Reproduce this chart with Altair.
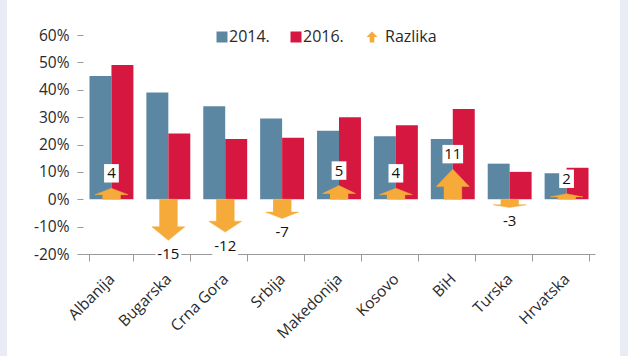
import altair as alt
import pandas as pd

countries = ["Albanija", "Bugarska", "Crna Gora", "Srbija", "Makedonija",
             "Kosovo", "BiH", "Turska", "Hrvatska"]
v2014 = [45, 39, 34, 29.5, 25, 23, 22, 13, 9.5]
v2016 = [49, 24, 22, 22.5, 30, 27, 33, 10, 11.5]
razlika = [4, -15, -12, -7, 5, 4, 11, -3, 2]
years = ["2014.", "2016."]
legend_names = ["2014.", "2016.", "Razlika"]
y_ticks = [-20, -10, 0, 10, 20, 30, 40, 50, 60]

BLUE = "#5B87A2"
RED = "#D6173F"
ORANGE = "#F6AA3A"
FONT = "Open Sans"
TXT = "#2a2a2a"

bars_df = pd.DataFrame({
    "country": countries * 2,
    "year": [years[0]] * len(countries) + [years[1]] * len(countries),
    "value": v2014 + v2016,
})

# arrow polygons built from the difference values
SHAFT, HEAD = 0.41, 0.75
rows = []
for c, d in zip(countries, razlika):
    hb = d * (0.67 if d < 0 else 0.42)
    pts = [(-SHAFT, 0), (SHAFT, 0), (SHAFT, hb), (HEAD, hb), (0, d), (-HEAD, hb), (-SHAFT, hb)]
    for k, (ox, yy) in enumerate(pts):
        rows.append({"country": c, "k": k, "off": ox, "y": yy})
arrow_df = pd.DataFrame(rows)

lab_df = pd.DataFrame({
    "country": countries,
    "d": razlika,
    "label": [str(v) for v in razlika],
    "len": [str(len(str(v))) for v in razlika],
})

x_axis = alt.Axis(title=None, labelAngle=-45, tickBand="extent",
                  domainColor="#9a9a9a", tickColor="#9a9a9a", tickSize=7,
                  labelFont=FONT, labelFontSize=15.5, labelColor=TXT,
                  labelPadding=15, labelAlign="right", labelBaseline="middle",
                  labelOverlap=False)
x_scale = alt.Scale(paddingInner=0.228, paddingOuter=0.114)
y_axis = alt.Axis(title=None, values=y_ticks, labelExpr="datum.value + '%'",
                  domain=False, grid=False, tickSize=6, tickColor="#9a9a9a",
                  labelFont=FONT, labelFontSize=15.5, labelColor=TXT, labelPadding=8,
                  labelOverlap=False)
y_scale = alt.Scale(domain=[-20, 60], nice=False, zero=False)


def xe():
    return alt.X("country:N", sort=countries, scale=x_scale, axis=x_axis)


def ye(field):
    return alt.Y(field, scale=y_scale, axis=y_axis)


bars = alt.Chart(bars_df).mark_bar().encode(
    x=xe(),
    xOffset=alt.XOffset("year:N", sort=years, scale=alt.Scale(paddingInner=0, paddingOuter=0)),
    y=ye("value:Q"),
    color=alt.Color("year:N", scale=alt.Scale(domain=years, range=[BLUE, RED]), legend=None),
)

arrows = alt.Chart(arrow_df).mark_line(fill=ORANGE, stroke=ORANGE, strokeWidth=0.5,
                                        interpolate="linear").encode(
    x=xe(),
    xOffset=alt.XOffset("off:Q", scale=alt.Scale(domain=[-1, 1])),
    y=ye("y:Q"),
    detail="country:N",
    order="k:Q",
)

box_shapes = ["M-0.8,-1H0.8V1H-0.8Z", "M-1.12,-1H1.12V1H-1.12Z", "M-1.4,-1H1.4V1H-1.4Z"]
shape_enc = alt.Shape("len:N", scale=alt.Scale(domain=["1", "2", "3"], range=box_shapes), legend=None)

pos = alt.datum.d > 0
neg = alt.datum.d < 0

boxes_pos = alt.Chart(lab_df).transform_filter(pos).mark_point(
    filled=True, fill="white", opacity=1, size=340, yOffset=-15, strokeWidth=0
).encode(x=xe(), y=ye("d:Q"), shape=shape_enc)

boxes_neg = alt.Chart(lab_df).transform_filter(neg).mark_point(
    filled=True, fill="white", opacity=1, size=340, yOffset=14, strokeWidth=0
).encode(x=xe(), y=ye("d:Q"), shape=shape_enc)

text_pos = alt.Chart(lab_df).transform_filter(pos).mark_text(
    font=FONT, fontSize=15, color="#111111", dy=-15, baseline="middle"
).encode(x=xe(), y=ye("d:Q"), text="label:N")

text_neg = alt.Chart(lab_df).transform_filter(neg).mark_text(
    font=FONT, fontSize=15, color="#111111", dy=14, baseline="middle"
).encode(x=xe(), y=ye("d:Q"), text="label:N")

# manual legend
leg_df = pd.DataFrame({
    "name": legend_names,
    "px": [139, 213, 289],
    "tx": [146, 220, 302],
    "py": [2, 2, 2],
})
arrow_icon = "M0,-1L1,0L0.42,0L0.42,1L-0.42,1L-0.42,0L-1,0Z"
leg_sym = alt.Chart(leg_df).mark_point(filled=True, opacity=1, strokeWidth=0).encode(
    x=alt.X("px:Q", scale=None),
    y=alt.Y("py:Q", scale=None),
    color=alt.Color("name:N", scale=alt.Scale(domain=legend_names, range=[BLUE, RED, ORANGE]), legend=None),
    shape=alt.Shape("name:N", scale=alt.Scale(domain=legend_names, range=["square", "square", arrow_icon]), legend=None),
    size=alt.Size("name:N", scale=alt.Scale(domain=legend_names, range=[121, 121, 240]), legend=None),
)
leg_txt = alt.Chart(leg_df).mark_text(font=FONT, fontSize=16, color=TXT, align="left",
                                      baseline="middle").encode(
    x=alt.X("tx:Q", scale=None), y=alt.Y("py:Q", scale=None), text="name:N")

strip_df = pd.DataFrame({"a": [0]})
strip_l = alt.Chart(strip_df).mark_rect(color="#E9EBF5").encode(
    x=alt.value(-83), x2=alt.value(-76), y=alt.value(-35), y2=alt.value(321))
strip_r = alt.Chart(strip_df).mark_rect(color="#E9EBF5").encode(
    x=alt.value(537), x2=alt.value(545), y=alt.value(-35), y2=alt.value(321))

chart = alt.layer(
    strip_l, strip_r, bars, arrows, boxes_pos, boxes_neg, text_pos, text_neg, leg_sym, leg_txt
).resolve_scale(
    xOffset="independent", color="independent", shape="independent"
).properties(
    width=512, height=219, autosize="none",
    padding={"left": 83, "top": 35, "right": 33, "bottom": 102},
    background="white",
).configure_view(stroke=None)

chart.save("out.html", embed_options={"renderer": "svg", "actions": False})
